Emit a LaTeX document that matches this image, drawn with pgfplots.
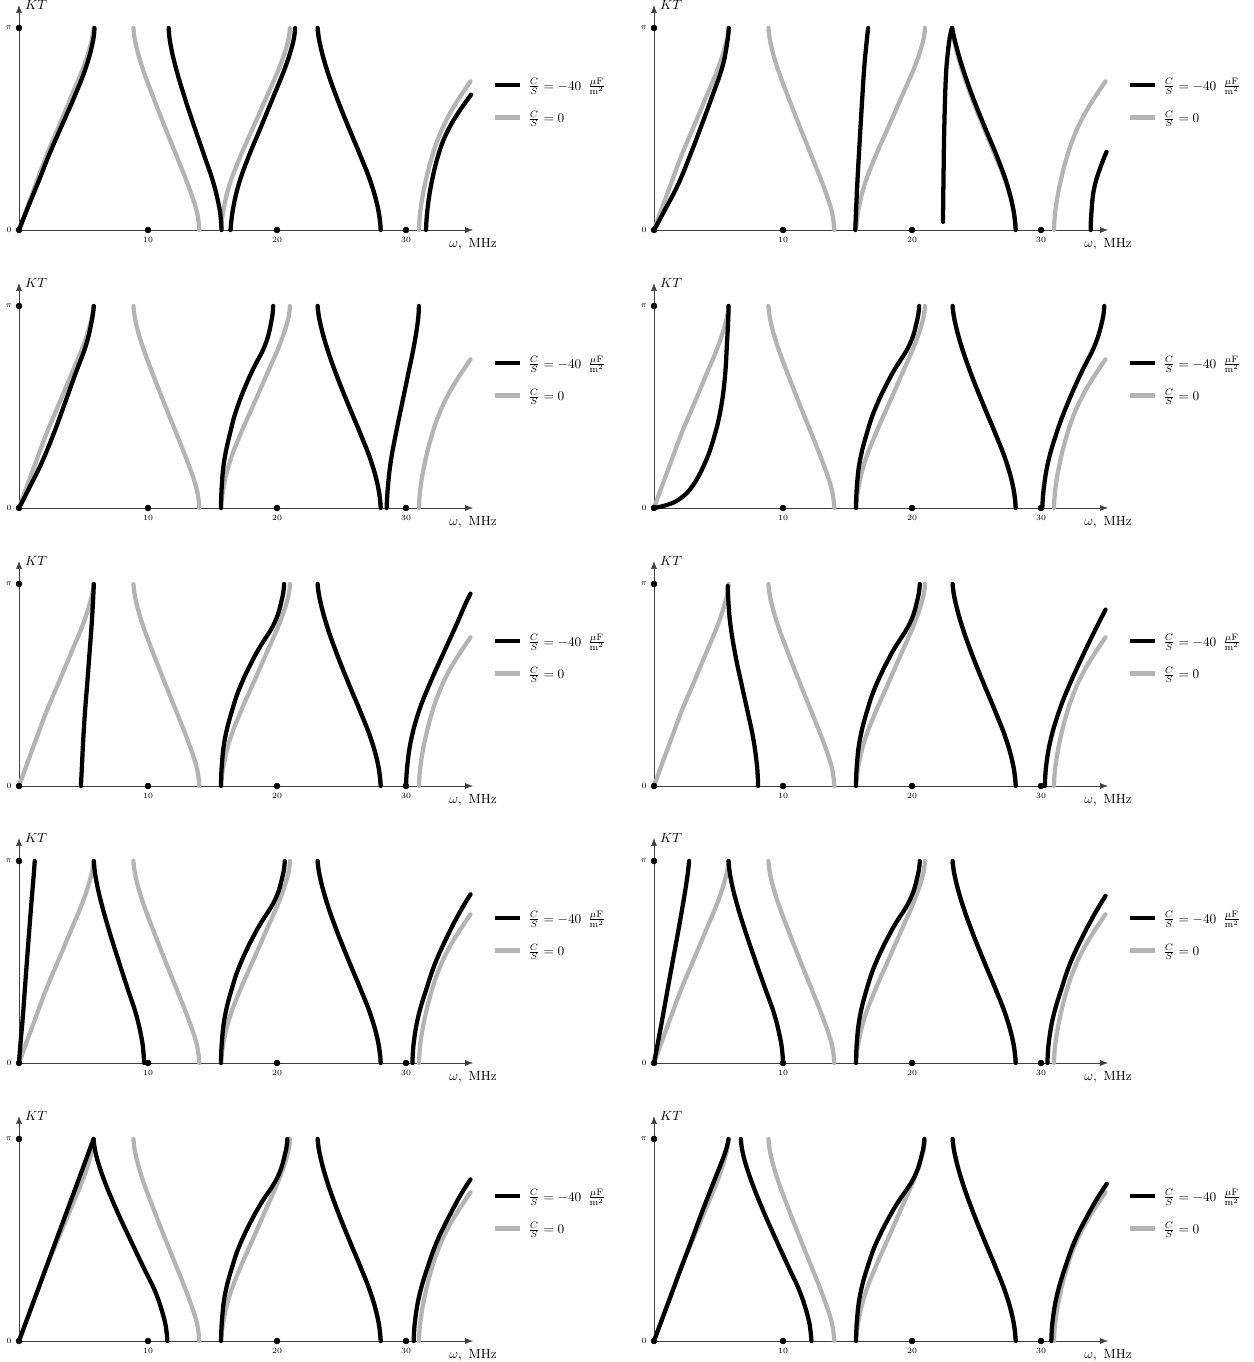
\documentclass[border=0pt]{standalone}
\usepackage{pgfplots}
\pgfplotsset{compat=1.18}
\usetikzlibrary{arrows.meta}
\definecolor{lg}{RGB}{180,180,180}
\pgfplotsset{
 panel/.style={
   anchor=origin, x=9.675pt, y=151.5pt,
   xmin=0, xmax=35.2, ymin=0, ymax=1.114,
   enlargelimits=false, clip=false,
   axis lines=left,
   x axis line style={line width=0.5pt, black!75, -{Latex[length=6pt,width=4.5pt]}},
   y axis line style={line width=0.5pt, black!75, -{Latex[length=6pt,width=4.5pt]}},
   xtick={10,20,30}, ytick={0,1}, yticklabels={$0$,$\pi$},
   major tick length=0pt,
   tick label style={font=\fontsize{6}{7}\selectfont},
   xticklabel style={yshift=-2pt},
   yticklabel style={xshift=-2pt},
   every axis x label/.style={at={(axis description cs:1,0)}, anchor=north, yshift=-3pt},
   every axis y label/.style={at={(axis description cs:0,1)}, anchor=west, xshift=1pt},
   xlabel={$\omega,\ \mathrm{MHz}$}, ylabel={$KT$},
   legend style={at={(axis description cs:1.042,0.573)}, anchor=west, draw=none, fill=none,
     inner sep=0pt, row sep=10pt, column sep=3pt, nodes={inner sep=2pt}},
   legend cell align=left,
   legend image code/.code={\draw[##1] (0pt,0pt) -- (18.75pt,0pt);},
 },
 blk/.style={black, line width=3.2pt, smooth, tension=0.7, line cap=round, line join=round, forget plot},
 gry/.style={color=lg, line width=3.2pt, smooth, tension=0.7, line cap=round, line join=round, forget plot},
}
% C/S = 0 branches (same in every panel)
\newcommand{\grays}{%
 \addplot[gry] coordinates {(0,0)(0.57,0.1)(1.32,0.23)(2.14,0.37)(3.0,0.5)(4.05,0.66)(5.0,0.807)(5.6,0.93)(5.78,1)};
 \addplot[gry] coordinates {(13.97,0)(13.90,0.05)(13.66,0.12)(13.00,0.24)(12.19,0.37)(11.37,0.5)(10.45,0.65)(9.58,0.8)(9.05,0.92)(8.87,1)};
 \addplot[gry] coordinates {(15.66,0)(15.85,0.1)(16.35,0.23)(17.20,0.37)(18.10,0.5)(19.20,0.66)(20.20,0.807)(20.84,0.93)(21.0,1)};
 \addplot[gry] coordinates {(28.04,0)(27.85,0.1)(27.3,0.23)(26.45,0.37)(25.6,0.5)(24.6,0.66)(23.8,0.807)(23.3,0.93)(23.15,1)};
 \addplot[gry] coordinates {(31.0,0)(31.12,0.1)(31.48,0.23)(32.0,0.36)(32.6,0.47)(33.3,0.565)(34.1,0.65)(35.0,0.736)};
}
\newcommand{\bfour}{%
 \addplot[blk] coordinates {(28.04,0)(27.85,0.1)(27.3,0.23)(26.45,0.37)(25.6,0.5)(24.6,0.66)(23.8,0.807)(23.3,0.93)(23.15,1)};
}
\newcommand{\tickdots}{%
 \addplot[only marks, mark=*, mark size=2.2pt, black, forget plot] coordinates {(0,0)(0,1)(10,0)(20,0)(30,0)};
}
\newcommand{\leg}{%
 \addlegendimage{black, line width=3.2pt}
 \addlegendentry{$\frac{C}{S}=-40\hspace{5pt}\frac{\mu\mathrm{F}}{\mathrm{m}^2}$}
 \addlegendimage{lg, line width=3.2pt}
 \addlegendentry{$\frac{C}{S}=0$}
}
\begin{document}
\begin{tikzpicture}
\useasboundingbox (0,0) rectangle (939.75pt,1021.5pt);
% ---------- Row 1 left
\begin{axis}[panel, at={(14.25pt,849pt)}]
\grays
\addplot[blk] coordinates {(0,0)(0.62,0.1)(1.45,0.23)(2.32,0.37)(3.2,0.5)(4.3,0.66)(5.2,0.807)(5.72,0.93)(5.85,1)};
\addplot[blk] coordinates {(15.7,0)(15.65,0.05)(15.50,0.12)(15.04,0.24)(14.35,0.37)(13.65,0.5)(12.87,0.65)(12.17,0.8)(11.74,0.92)(11.6,1)};
\addplot[blk] coordinates {(16.4,0)(16.58,0.1)(17.05,0.23)(17.84,0.37)(18.69,0.5)(19.72,0.66)(20.65,0.807)(21.25,0.93)(21.4,1)};
\bfour
\addplot[blk] coordinates {(31.55,0)(31.66,0.1)(31.97,0.23)(32.5,0.37)(33.15,0.48)(34.05,0.58)(35.05,0.67)};
\tickdots
\leg
\end{axis}
% ---------- Row 1 right
\begin{axis}[panel, at={(490.5pt,849pt)}]
\grays
\addplot[blk] coordinates {(0,0)(0.85,0.1)(1.9,0.23)(2.8,0.37)(3.58,0.5)(4.5,0.66)(5.3,0.807)(5.68,0.93)(5.8,1)};
\addplot[blk] coordinates {(15.6,0)(15.68,0.12)(15.76,0.23)(15.88,0.37)(16.0,0.5)(16.15,0.66)(16.3,0.807)(16.48,0.93)(16.6,1)};
\addplot[blk] coordinates {(22.4,0.04)(22.44,0.25)(22.5,0.5)(22.62,0.75)(22.78,0.88)(22.95,0.96)(23.1,1)};
\addplot[blk] coordinates {(28.04,0)(27.86,0.1)(27.35,0.23)(26.55,0.37)(25.7,0.5)(24.7,0.66)(23.9,0.807)(23.35,0.93)(23.1,1)};
\addplot[blk] coordinates {(33.85,0)(33.9,0.08)(34.1,0.2)(34.55,0.3)(35.08,0.387)};
\tickdots
\leg
\end{axis}
% ---------- Row 2 left
\begin{axis}[panel, at={(14.25pt,640.5pt)}]
\grays
\addplot[blk] coordinates {(0,0)(0.8,0.1)(1.8,0.23)(2.7,0.37)(3.45,0.5)(4.35,0.66)(5.2,0.807)(5.65,0.93)(5.8,1)};
\addplot[blk] coordinates {(15.66,0)(15.71,0.1)(15.90,0.23)(16.36,0.37)(16.93,0.5)(17.94,0.66)(19.08,0.807)(19.58,0.93)(19.7,1)};
\bfour
\addplot[blk] coordinates {(28.5,0)(28.59,0.1)(28.82,0.23)(29.22,0.37)(29.64,0.5)(30.16,0.66)(30.63,0.807)(30.93,0.93)(31.0,1)};
\tickdots
\leg
\end{axis}
% ---------- Row 2 right
\begin{axis}[panel, at={(490.5pt,640.5pt)}]
\grays
\addplot[blk] coordinates {(0,0)(1.0,0.015)(2.0,0.045)(3.0,0.11)(4.0,0.23)(4.7,0.36)(5.2,0.5)(5.5,0.65)(5.65,0.807)(5.75,0.93)(5.78,1)};
\addplot[blk] coordinates {(15.66,0)(15.72,0.1)(15.95,0.23)(16.50,0.37)(17.20,0.5)(18.42,0.66)(19.80,0.807)(20.40,0.93)(20.55,1)};
\bfour
\addplot[blk] coordinates {(30.1,0)(30.22,0.1)(30.56,0.23)(31.20,0.37)(31.95,0.5)(33.05,0.66)(34.18,0.807)(34.76,0.93)(34.9,1)};
\tickdots
\leg
\end{axis}
% ---------- Row 3 left
\begin{axis}[panel, at={(14.25pt,432pt)}]
\grays
\addplot[blk] coordinates {(4.8,0)(4.88,0.1)(4.98,0.23)(5.12,0.37)(5.28,0.5)(5.47,0.66)(5.64,0.807)(5.75,0.93)(5.8,1)};
\addplot[blk] coordinates {(15.66,0)(15.72,0.1)(15.95,0.23)(16.50,0.37)(17.20,0.5)(18.42,0.66)(19.80,0.807)(20.40,0.93)(20.55,1)};
\bfour
\addplot[blk] coordinates {(30.0,0)(30.1,0.1)(30.4,0.23)(31.0,0.37)(31.8,0.5)(32.85,0.65)(33.85,0.79)(34.6,0.9)(35.0,0.952)};
\tickdots
\leg
\end{axis}
% ---------- Row 3 right
\begin{axis}[panel, at={(490.5pt,432pt)}]
\grays
\addplot[blk] coordinates {(8.07,0)(8.04,0.05)(7.95,0.12)(7.68,0.24)(7.25,0.37)(6.8,0.5)(6.3,0.65)(5.92,0.8)(5.76,0.92)(5.72,0.99)};
\addplot[blk] coordinates {(15.66,0)(15.72,0.1)(15.96,0.23)(16.51,0.37)(17.22,0.5)(18.45,0.66)(19.84,0.807)(20.45,0.93)(20.6,1)};
\bfour
\addplot[blk] coordinates {(30.3,0)(30.4,0.1)(30.75,0.23)(31.4,0.37)(32.2,0.5)(33.2,0.64)(34.1,0.76)(35.0,0.873)};
\tickdots
\leg
\end{axis}
% ---------- Row 4 left
\begin{axis}[panel, at={(14.25pt,224.25pt)}]
\grays
\addplot[blk] coordinates {(0,0)(0.12,0.1)(0.3,0.23)(0.46,0.37)(0.61,0.5)(0.8,0.66)(0.98,0.807)(1.14,0.93)(1.22,1)};
\addplot[blk] coordinates {(9.7,0)(9.65,0.05)(9.51,0.12)(9.08,0.24)(8.41,0.37)(7.75,0.5)(7.01,0.65)(6.35,0.8)(5.94,0.92)(5.8,1)};
\addplot[blk] coordinates {(15.66,0)(15.72,0.1)(15.96,0.23)(16.51,0.37)(17.22,0.5)(18.45,0.66)(19.84,0.807)(20.45,0.93)(20.6,1)};
\bfour
\addplot[blk] coordinates {(30.5,0)(30.6,0.1)(30.95,0.23)(31.6,0.37)(32.3,0.5)(33.3,0.64)(34.2,0.75)(35.0,0.835)};
\tickdots
\leg
\end{axis}
% ---------- Row 4 right
\begin{axis}[panel, at={(490.5pt,224.25pt)}]
\grays
\addplot[blk] coordinates {(0,0)(0.3,0.1)(0.68,0.23)(1.07,0.37)(1.44,0.5)(1.9,0.66)(2.3,0.807)(2.6,0.93)(2.72,1)};
\addplot[blk] coordinates {(10.0,0)(9.95,0.05)(9.79,0.12)(9.33,0.24)(8.61,0.37)(7.89,0.5)(7.09,0.65)(6.37,0.8)(5.93,0.92)(5.78,1)};
\addplot[blk] coordinates {(15.66,0)(15.72,0.1)(15.96,0.23)(16.51,0.37)(17.22,0.5)(18.45,0.66)(19.84,0.807)(20.45,0.93)(20.6,1)};
\bfour
\addplot[blk] coordinates {(30.5,0)(30.6,0.1)(30.95,0.23)(31.6,0.37)(32.3,0.5)(33.3,0.635)(34.2,0.743)(35.0,0.827)};
\tickdots
\leg
\end{axis}
% ---------- Row 5 left
\begin{axis}[panel, at={(14.25pt,15.75pt)}]
\grays
\addplot[blk] coordinates {(0,0)(1.45,0.25)(2.89,0.5)(4.34,0.75)(5.78,1)};
\addplot[blk] coordinates {(11.5,0)(11.43,0.05)(11.21,0.12)(10.59,0.24)(9.61,0.37)(8.64,0.5)(7.55,0.65)(6.58,0.8)(5.98,0.92)(5.78,1)};
\addplot[blk] coordinates {(15.66,0)(15.73,0.1)(15.97,0.23)(16.54,0.37)(17.28,0.5)(18.56,0.66)(20.01,0.807)(20.64,0.93)(20.8,1)};
\bfour
\addplot[blk] coordinates {(30.6,0)(30.7,0.1)(31.05,0.23)(31.7,0.37)(32.45,0.5)(33.45,0.63)(34.3,0.73)(35.0,0.80)};
\tickdots
\leg
\end{axis}
% ---------- Row 5 right
\begin{axis}[panel, at={(490.5pt,15.75pt)}]
\grays
\addplot[blk] coordinates {(0,0)(0.58,0.1)(1.34,0.23)(2.15,0.37)(2.92,0.5)(3.85,0.66)(4.75,0.807)(5.5,0.93)(5.78,1)};
\addplot[blk] coordinates {(12.2,0)(12.13,0.05)(11.93,0.12)(11.33,0.24)(10.40,0.37)(9.47,0.5)(8.43,0.65)(7.50,0.8)(6.92,0.92)(6.73,1)};
\addplot[blk] coordinates {(15.66,0)(15.73,0.1)(15.98,0.23)(16.57,0.37)(17.33,0.5)(18.65,0.66)(20.14,0.807)(20.79,0.93)(20.95,1)};
\bfour
\addplot[blk] coordinates {(30.8,0)(30.9,0.1)(31.25,0.23)(31.9,0.37)(32.65,0.5)(33.6,0.62)(34.4,0.71)(35.1,0.778)};
\tickdots
\leg
\end{axis}
\end{tikzpicture}
\end{document}
